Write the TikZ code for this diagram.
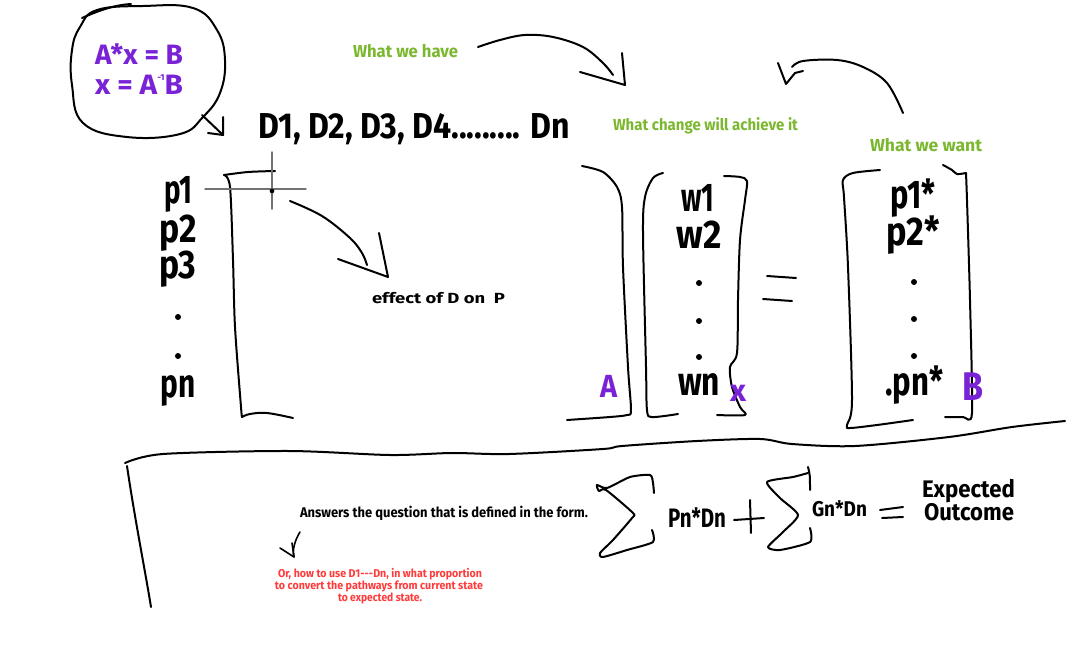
\documentclass[tikz,border=0pt]{standalone}
\usepackage{fontspec}
\usepackage{graphicx}
\setmainfont{Fira Sans}
\definecolor{grn}{HTML}{7CB82F}
\definecolor{pur}{HTML}{7A22D6}
\definecolor{rd}{HTML}{FF3B3B}
\newdimen\pxu \pxu=0.75pt
\newcommand\fw[2]{\resizebox{#1\pxu}{\height}{#2}}
\newcommand\fs[1]{\fontsize{#1}{#1}\selectfont\bfseries}
\begin{document}
\begin{tikzpicture}[x=0.75pt,y=-0.75pt,line cap=round,line join=round,
  ink/.style={draw=black,line width=1.5pt},
  thinink/.style={draw=black,line width=1.2pt},
  cross/.style={draw=black!55,line width=1.1pt},
  txt/.style={inner sep=0pt,outer sep=0pt,anchor=base west},
  ctr/.style={inner sep=0pt,outer sep=0pt,anchor=base},
  pdot/.style={circle,fill=black,draw=none,inner sep=0pt,minimum size=4.5pt}]
\fill[white] (0,0) rectangle (1075,653);
\useasboundingbox (0,0) rectangle (1075,653);

% ---------- top-left blob ----------
\draw[ink] plot[smooth cycle,tension=0.7] coordinates {(97,10) (143,6) (193,8) (217,30) (225,60) (220,93) (203,117) (180,134) (127,137) (83,123) (72,85) (72,50) (80,27)};
\coordinate (ov1) at (82,18); \coordinate (ov2) at (131,4);
\draw[ink] (ov1) .. controls (100,10) and (115,5) .. (ov2);
\node[txt,text=pur] (eq1) at (95,64) {\fs{21}\fw{88}{A*x = B}};
\node[txt,text=pur] (eq2) at (95,94) {\fs{21}\fw{88}{x = A\smash{\raisebox{10.5pt}{\fontsize{6.5}{6.5}\selectfont -1}}B}};
\coordinate (bs) at (202,115); \coordinate (bt) at (223,135);
\draw[ink] (bs) -- (bt) -- (223,117);
\draw[ink] (208,133) -- (bt);

% ---------- top texts ----------
\node[txt,text=grn] (have) at (353,57) {\fs{13}\fw{105}{What we have}};
\node[txt] (D) at (258,138) {\fs{27}\fw{312}{D1, D2, D3, D4......... Dn}};
\node[txt,text=grn] (change) at (613,130) {\fs{12}\fw{185}{What change will achieve it}};
\node[txt,text=grn] (want) at (870,151) {\fs{13}\fw{112}{What we want}};

% arrow: what we have
\coordinate (h1) at (478,47); \coordinate (h2) at (625,85);
\draw[ink] plot[smooth,tension=0.6] coordinates {(478,47) (500,40) (525,35) (553,37) (583,47) (603,63) (613,75)};
\draw[ink] (580,72) -- (h2) -- (622,53);

% arrow: what we want
\coordinate (w1s) at (903,113); \coordinate (w1t) at (786,84);
\draw[ink] plot[smooth,tension=0.6] coordinates {(903,113) (887,83) (863,67) (837,60) (803,61) (792,67)};
\draw[ink] (778,63) -- (w1t) -- (795,73) -- (803,71);

% ---------- left block ----------
\node[ctr] (p1) at (178,203) {\fs{30}\fw{28}{p1}};
\node[ctr] (p2) at (178,242) {\fs{30}\fw{37}{p2}};
\node[ctr] (p3) at (178,278) {\fs{30}\fw{37}{p3}};
\node[pdot] (pd1) at (178,317) {};
\node[pdot] (pd2) at (178,356) {};
\node[ctr] (pn) at (178,397) {\fs{30}\fw{35}{pn}};

\draw[ink] plot[smooth,tension=0.5] coordinates {(275,171) (248,172) (224,175)};
\draw[ink] plot[smooth,tension=0.5] coordinates {(224,175) (230,187) (233,260) (235,327) (241,407) (242,417)};
\draw[ink] plot[smooth,tension=0.6] coordinates {(242,417) (250,414) (267,413) (293,418)};

\coordinate (chl) at (205,189); \coordinate (chr) at (306,189);
\coordinate (cht) at (272,152); \coordinate (chb) at (272,209);
\draw[cross] (chl) -- (chr);
\draw[cross] (cht) -- (chb);
\node[circle,fill=black,inner sep=0pt,minimum size=3.5pt] (cdot) at (272,191) {};

\coordinate (es) at (290,201); \coordinate (et) at (388,277);
\draw[ink] plot[smooth,tension=0.6] coordinates {(290,201) (322,216) (350,238) (362,253) (367,265)};
\draw[ink] (338,259) -- (et) -- (379,233);
\node[txt] (effect) at (372,303) {\fs{11}\fw{133}{effect of D on\ \ P}};

% ---------- A x = B ----------
\draw[ink] plot[smooth,tension=0.5] coordinates {(582,166) (603,172) (617,187) (622,207) (623,267) (628,367) (631,410) (627,415) (610,417) (567,420)};
\node[txt,text=pur] (A) at (600,397) {\fs{24}\fw{17}{A}};

\draw[ink] plot[smooth,tension=0.5] coordinates {(663,173) (653,178) (645,197) (643,233) (646,367) (647,410) (652,417) (678,414)};
\draw[ink] plot[smooth,tension=0.5] coordinates {(724,176) (740,177) (747,181) (745,200) (740,240) (738,300) (737,353) (730,367) (732,387) (740,407) (745,415) (717,415)};
\node[ctr] (w1) at (698,211) {\fs{30}\fw{33}{w1}};
\node[ctr] (w2) at (699,248) {\fs{30}\fw{45}{w2}};
\node[pdot] (wd1) at (699,283) {};
\node[pdot] (wd2) at (699,321) {};
\node[pdot] (wd3) at (699,357) {};
\node[ctr] (wn) at (699,395) {\fs{30}\fw{42}{wn}};
\node[txt,text=pur] (X) at (730,401) {\fs{23}\fw{16}{x}};

\coordinate (e1a) at (767,276); \coordinate (e1b) at (796,278);
\coordinate (e2a) at (763,299); \coordinate (e2b) at (792,301);
\draw[ink] (e1a) -- (e1b);
\draw[ink] (e2a) -- (e2b);

\draw[ink] plot[smooth,tension=0.5] coordinates {(880,170) (853,173) (843,180) (844,197) (848,267) (852,400) (847,425) (850,428) (877,425) (913,420)};
\draw[ink] plot[smooth,tension=0.5] coordinates {(943,165) (952,170) (957,174) (966,173)};
\draw[ink] plot[smooth,tension=0.4] coordinates {(966,173) (967,200) (970,300) (972,413) (963,417) (945,417)};
\node[ctr] (q1) at (913,208) {\fs{30}\fw{45}{p1*}};
\node[ctr] (q2) at (913,245) {\fs{30}\fw{53}{p2*}};
\node[pdot] (qd1) at (914,282) {};
\node[pdot] (qd2) at (914,319) {};
\node[pdot] (qd3) at (914,356) {};
\node[ctr] (qn) at (914,395) {\fs{30}\fw{58}{.pn*}};
\node[txt,text=pur] (B) at (962,400) {\fs{30}\fw{21}{B}};

% ---------- divider ----------
\coordinate (dv0) at (125,463); \coordinate (dv1) at (1065,421); \coordinate (dvb) at (151,607);
\draw[ink] plot[smooth,tension=0.5] coordinates {(125,463) (163,454) (289,451) (390,455) (452,453) (509,454) (603,449) (622,446) (697,441) (760,439) (792,444) (855,446) (949,437) (1012,427) (1065,421)};
\draw[ink] (127,466) .. controls (135,520) and (145,570) .. (dvb);

% ---------- bottom ----------
\node[txt] (ans) at (300,517) {\fs{10.5}\fw{288}{Answers the question that is defined in the form.}};
\coordinate (sa) at (300,532); \coordinate (st) at (294,557);
\draw[thinink] (sa) .. controls (295,540) and (292,550) .. (st);
\draw[thinink] (280,548) -- (st) -- (292,543);
\node[ctr,text=rd] (r1) at (380,577) {\fs{8.5}\fw{204}{Or, how to use D1-{}-{}-Dn, in what proportion}};
\node[ctr,text=rd] (r2) at (379,589) {\fs{8.5}\fw{208}{to convert the pathways from current state}};
\node[ctr,text=rd] (r3) at (380,601) {\fs{8.5}\fw{84}{to expected state.}};

% sigma 1
\draw[ink] plot[smooth,tension=0.4] coordinates {(654,493) (653,483) (650,475) (630,477) (607,488) (597,485) (599,491) (606,490) (633,513) (632,518) (613,540) (600,553) (603,557) (627,550) (653,542) (652,530)};
\node[txt] (pd) at (668,527) {\fs{20}\fw{58}{Pn*Dn}};
\coordinate (pl1) at (750,500); \coordinate (pl2) at (751,533);
\coordinate (pl3) at (734,520); \coordinate (pl4) at (764,518);
\draw[ink] (pl1) -- (pl2);
\draw[ink] (pl3) -- (pl4);
% sigma 2
\draw[ink] (808,467) .. controls (810,475) .. (810,490);
\draw[ink] plot[smooth,tension=0.4] coordinates {(808,473) (793,477) (767,482) (780,498) (798,515) (783,532) (768,547) (780,550) (810,542) (810,528)};
\node[txt] (gd) at (812,516) {\fs{16}\fw{55}{Gn*Dn}};
\coordinate (q1a) at (880,510); \coordinate (q1b) at (903,507);
\coordinate (q2a) at (882,518); \coordinate (q2b) at (903,517);
\draw[ink] (q1a) -- (q1b);
\draw[ink] (q2a) -- (q2b);
\node[txt] (exp) at (922,497) {\fs{18}\fw{93}{Expected}};
\node[txt] (out) at (924,520) {\fs{18}\fw{90}{Outcome}};
\end{tikzpicture}
\end{document}
